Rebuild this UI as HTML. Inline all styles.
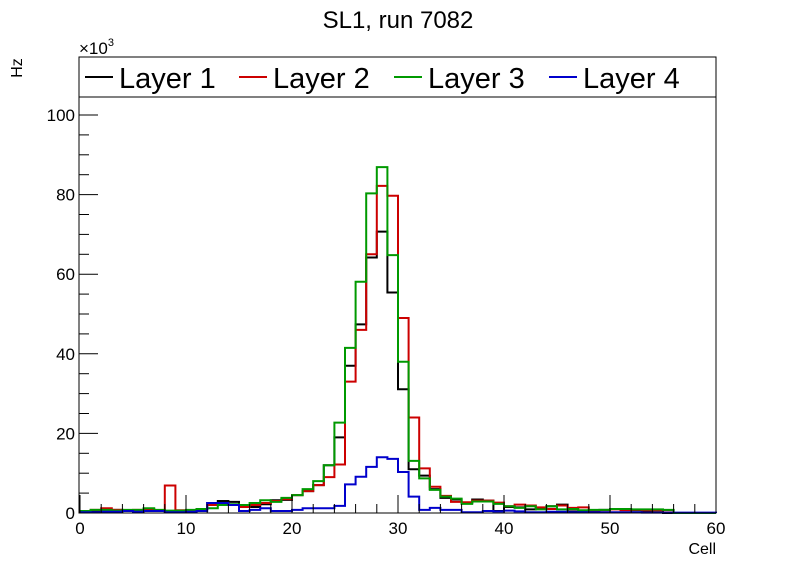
<!DOCTYPE html>
<html><head><meta charset="utf-8"><style>
body{margin:0;background:#fff}
svg{display:block;font-family:"Liberation Sans",sans-serif}
</style></head><body>
<svg id="c" width="796" height="572">
<text x="398" y="28" font-size="24" text-anchor="middle">SL1, run 7082</text>
<text transform="translate(22,68) rotate(-90)" font-size="16" text-anchor="middle">Hz</text>
<text x="79" y="54" font-size="17">×10<tspan font-size="11" dy="-8">3</tspan></text>
<text x="716" y="554" font-size="16" text-anchor="end">Cell</text>
<g id="plot"></g>
<g id="legend"></g>
</svg>
<script>
const xTicks=[0,10,20,30,40,50,60];
const yTicks=[0,20,40,60,80,100];
const layerNames=["Layer 1","Layer 2","Layer 3","Layer 4"];
const colors=["#000000","#cc0000","#009900","#0000cc"];
const layer1=[0.5,0.5,0.8,0.8,0.5,0.5,0.8,0.5,0.3,0.3,0.5,1,2.5,3,2.8,2,1.5,2.2,3.2,3.3,4.5,5.5,7,12,19,37,47.4,64.2,70.7,55.4,31.1,11,9.4,6,3.8,3.4,2.5,3.4,3.1,0.5,1.5,1.4,0.9,1.3,1.7,2.1,0.4,0.3,0.6,0.8,1,0.8,0.7,0.5,0.6,0,0,0,0,0];
const layer2=[0.5,0.8,1.2,0.8,0.5,0.8,1,0.5,6.9,0.7,0.5,1,2,2.5,2,1.5,2,2.5,3,3.5,4.5,5.5,7,9,12.2,33,46,65,82.2,79.7,49,24,11.2,6.6,4.3,2.8,2.7,3.1,3.1,2.6,1.7,2.1,1.9,1.4,1,1.9,1.3,1.4,0.7,0.7,0.9,0.7,0.8,0.7,0.7,0.7,0,0,0,0];
const layer3=[0.5,0.8,0.8,0.6,0.8,0.8,1.2,0.8,0.6,0.6,0.8,1,1.2,2,2.2,2,2.5,3.2,2.8,3.8,4.5,6,8,12,22.7,41.5,58.1,80.3,86.9,64.8,38,13.1,8.7,5.8,4.1,3.6,2.3,2.9,2.9,2.3,1.7,1.3,1.7,0.9,1.7,0.9,1,0.7,0.8,0.8,1,1,0.9,0.9,0.9,0.8,0,0,0,0];
const layer4=[0.2,0.2,0.3,0.3,0.5,0.3,0.5,0.5,0.2,0.2,0.3,0.5,2.5,2.5,2,0.5,0.8,1.2,0.5,0.5,0.8,1.2,1.2,1.2,1.8,7.2,9.1,11.6,14,13.6,10.3,4.1,0.8,1.3,0.8,0.8,0.2,0.2,0.5,0.4,0.6,0.4,0.2,0.2,0.3,0.3,0.2,0.2,0.2,0.2,0.2,0.2,0.2,0.1,0.1,0.1,0.1,0.1,0.1,0.1];
const series=[layer1,layer2,layer3,layer4];
const NS="http://www.w3.org/2000/svg";
const L=79,R=716,T=57,B=513;
const X=v=>80+v*(636/60);
const Y=v=>513-v*3.98;
const plot=document.getElementById('plot');
function mk(tag,attrs,parent){const e=document.createElementNS(NS,tag);for(const k in attrs)e.setAttribute(k,attrs[k]);parent.appendChild(e);return e;}
series.forEach((d,si)=>{
  let p="M"+X(0)+","+Y(0);
  d.forEach((v,i)=>{p+=" L"+X(i)+","+Y(v)+" L"+X(i+1)+","+Y(v);});
  p+=" L"+X(d.length)+","+Y(0);
  const e=mk('path',{d:p,fill:"none",stroke:colors[si],"stroke-width":2},plot);
  
  
});
const fr=mk('rect',{x:L,y:T,width:R-L,height:B-T,fill:"none",stroke:"#000","stroke-width":1},plot);


for(let v=0;v<=60;v+=2){
  const major=v%10===0;
  const t=mk('line',{x1:X(v),x2:X(v),y1:B,y2:B-(major?18:9),stroke:"#000"},plot);
  
  
}
xTicks.forEach(v=>{
  const t=mk('text',{x:X(v),y:B+21,"font-size":17,"text-anchor":"middle"},plot);
  t.textContent=v;
  
  
});
for(let v=0;v<=100;v+=5){
  const major=v%20===0;
  const t=mk('line',{x1:L,x2:L+(major?19:10),y1:Y(v),y2:Y(v),stroke:"#000"},plot);
  
  
}
yTicks.forEach(v=>{
  const t=mk('text',{x:L-4,y:Y(v)+6,"font-size":17,"text-anchor":"end"},plot);
  t.textContent=v;
  
  
});
const lg=document.getElementById('legend');
const bx=mk('rect',{x:L,y:T,width:R-L,height:40,fill:"#fff",stroke:"#000"},lg);


const lx=[85,239,394,549];
layerNames.forEach((n,i)=>{
  const g=mk('g',{},lg);
  
  
  mk('line',{x1:lx[i],x2:lx[i]+28,y1:T+20,y2:T+20,stroke:colors[i],"stroke-width":2},g);
  const t=mk('text',{x:lx[i]+34,y:T+31,"font-size":29},g);
  t.textContent=n;
});
</script>
</body></html>
